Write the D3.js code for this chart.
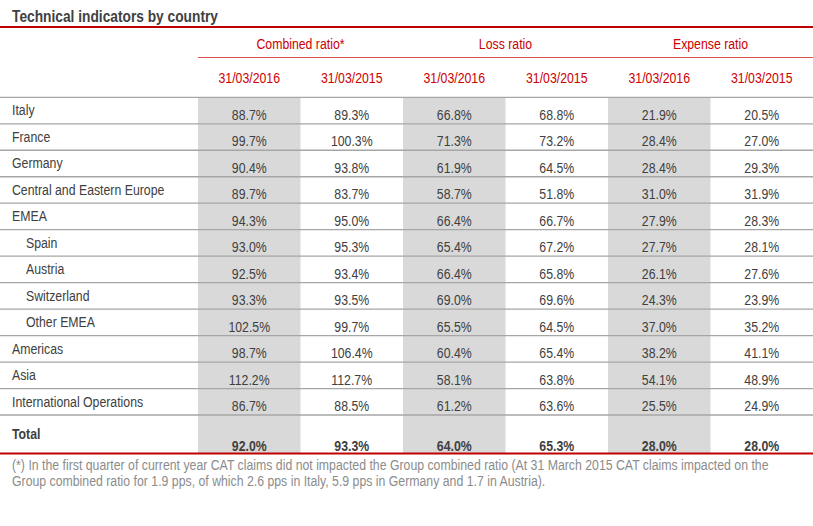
<!DOCTYPE html>
<html>
<head>
<meta charset="utf-8">
<script src="https://cdn.jsdelivr.net/npm/d3@7"></script>
<style>
  html, body { margin: 0; padding: 0; background: #fff; }
  svg { display: block; }
  text { font-family: "Liberation Sans Narrow", "Arial Narrow", "Liberation Sans", Arial, sans-serif; }
</style>
</head>
<body>
<svg id="chart" width="813" height="526"></svg>
<script>
// ---- data ----
const title = "Technical indicators by country";
const groups = ["Combined ratio*", "Loss ratio", "Expense ratio"];
const periods = ["31/03/2016", "31/03/2015"];
const countries = ["Italy", "France", "Germany", "Central and Eastern Europe", "EMEA",
  "Spain", "Austria", "Switzerland", "Other EMEA", "Americas", "Asia", "International Operations"];
const indented = [false, false, false, false, false, true, true, true, true, false, false, false];
const combined2016 = [88.7, 99.7, 90.4, 89.7, 94.3, 93.0, 92.5, 93.3, 102.5, 98.7, 112.2, 86.7];
const combined2015 = [89.3, 100.3, 93.8, 83.7, 95.0, 95.3, 93.4, 93.5, 99.7, 106.4, 112.7, 88.5];
const loss2016 = [66.8, 71.3, 61.9, 58.7, 66.4, 65.4, 66.4, 69.0, 65.5, 60.4, 58.1, 61.2];
const loss2015 = [68.8, 73.2, 64.5, 51.8, 66.7, 67.2, 65.8, 69.6, 64.5, 65.4, 63.8, 63.6];
const expense2016 = [21.9, 28.4, 28.4, 31.0, 27.9, 27.7, 26.1, 24.3, 37.0, 38.2, 54.1, 25.5];
const expense2015 = [20.5, 27.0, 29.3, 31.9, 28.3, 28.1, 27.6, 23.9, 35.2, 41.1, 48.9, 24.9];
const totalLabel = "Total";
const totals = [92.0, 93.3, 64.0, 65.3, 28.0, 28.0];
const footnote = [
  "(*) In the first quarter of current year CAT claims did not impacted the Group combined ratio (At 31 March 2015 CAT claims impacted on the",
  "Group combined ratio for 1.9 pps, of which 2.6 pps in Italy, 5.9 pps in Germany and 1.7 in Austria)."
];

// ---- layout ----
const W = 813;
const red = "#c00000", headRed = "#cc0000", txt = "#404040", shade = "#d9d9d9", rule = "#a6a6a6";
const SX = 0.82; // emulate a narrow typeface
const svg = d3.select("#chart");
const series = [combined2016, combined2015, loss2016, loss2015, expense2016, expense2015];
const colKeys = d3.range(series.length);
const x = d3.scaleBand().domain(colKeys).range([198, W]);
const gx = d3.scaleBand().domain(groups).range([198, W]);
const y = d3.scaleBand().domain(d3.range(countries.length)).range([97.3, 415]);
const totalTop = 415, totalBottom = 453.5;
const fmt = v => d3.format(".1f")(v) + "%";

// place a condensed text at (fx, fy)
function place(sel, fx, fy, sx = SX) {
  return sel.attr("x", 0).attr("y", 0)
    .attr("transform", (d, i) => `translate(${fx(d, i)},${fy(d, i)}) scale(${sx},1)`);
}

svg.append("rect").attr("width", W).attr("height", 526).attr("fill", "#fff");

// shaded columns (current year)
svg.selectAll("rect.shade").data(colKeys.filter(c => c % 2 === 0)).join("rect")
  .attr("class", "shade")
  .attr("x", c => x(c)).attr("width", x.bandwidth())
  .attr("y", 97.3).attr("height", totalBottom - 97.3)
  .attr("fill", shade);

// title
place(svg.append("text").datum(title), () => 12, () => 22, 0.86)
  .attr("font-size", 16).attr("font-weight", "bold").attr("fill", txt).text(title);
svg.append("line").attr("x1", 0).attr("x2", W).attr("y1", 27).attr("y2", 27)
  .attr("stroke", red).attr("stroke-width", 2);

// group headers
place(svg.selectAll("text.group").data(groups).join("text").attr("class", "group"),
  g => gx(g) + gx.bandwidth() / 2, () => 49)
  .attr("text-anchor", "middle").attr("font-size", 15).attr("fill", headRed).text(g => g);
svg.append("line").attr("x1", 198).attr("x2", W).attr("y1", 57.5).attr("y2", 57.5)
  .attr("stroke", "#d9534f").attr("stroke-width", 1.2);

// period headers
place(svg.selectAll("text.period").data(colKeys).join("text").attr("class", "period"),
  c => x(c) + x.bandwidth() / 2, () => 83)
  .attr("text-anchor", "middle").attr("font-size", 15).attr("fill", headRed)
  .text(c => periods[c % 2]);

// row rules
const ruleYs = d3.range(countries.length).map(i => y(i)).concat([totalTop]);
svg.selectAll("line.rule").data(ruleYs).join("line")
  .attr("class", "rule")
  .attr("x1", 0).attr("x2", W).attr("y1", d => d).attr("y2", d => d)
  .attr("stroke", rule).attr("stroke-width", 1.3);

// row labels
place(svg.selectAll("text.label").data(countries).join("text").attr("class", "label"),
  (d, i) => indented[i] ? 26 : 12, (d, i) => y(i) + 18)
  .attr("font-size", 15).attr("fill", txt).text(d => d);

// values
colKeys.forEach(c => {
  place(svg.selectAll("text.v" + c).data(series[c]).join("text").attr("class", "v" + c),
    () => x(c) + x.bandwidth() / 2, (d, i) => y(i) + 22.5)
    .attr("text-anchor", "middle").attr("font-size", 15).attr("fill", txt)
    .text(fmt);
});

// total row
place(svg.append("text").datum(totalLabel), () => 12, () => totalTop + 24)
  .attr("font-size", 15).attr("font-weight", "bold").attr("fill", txt).text(totalLabel);
place(svg.selectAll("text.total").data(totals).join("text").attr("class", "total"),
  (d, i) => x(i) + x.bandwidth() / 2, () => totalTop + 35.5)
  .attr("text-anchor", "middle").attr("font-size", 15).attr("font-weight", "bold")
  .attr("fill", txt).text(fmt);
svg.append("line").attr("x1", 0).attr("x2", W).attr("y1", totalBottom).attr("y2", totalBottom)
  .attr("stroke", red).attr("stroke-width", 2.2);

// footnote
place(svg.selectAll("text.foot").data(footnote).join("text").attr("class", "foot"),
  () => 12, (d, i) => 470 + i * 16)
  .attr("font-size", 15).attr("fill", "#8c8c8c").text(d => d);
</script>
</body>
</html>
